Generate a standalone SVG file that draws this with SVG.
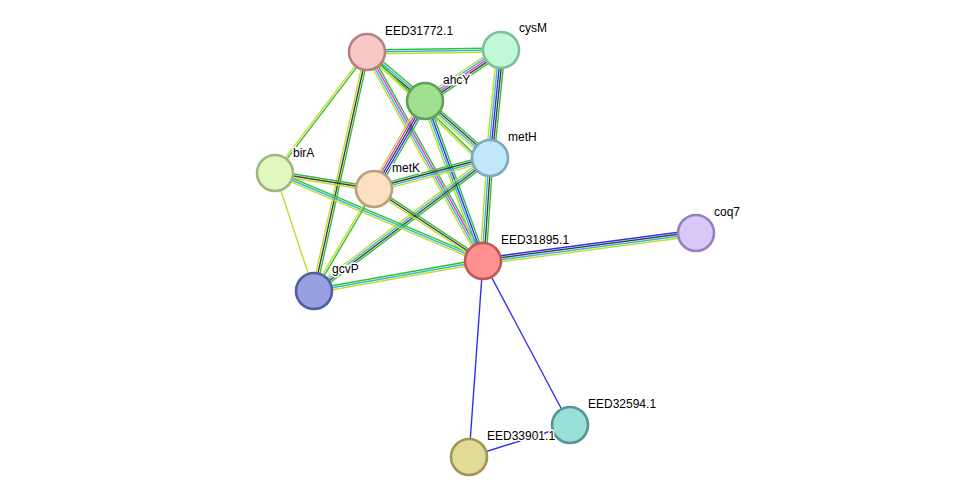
<svg xmlns="http://www.w3.org/2000/svg" width="975" height="502" viewBox="0 0 975 502">
<style>
line{stroke-width:1.4;fill:none}
.g{stroke:#33c033}.c{stroke:#33b8d8}.y{stroke:#c4dc30}.k{stroke:#404040}.b{stroke:#3030f0}.m{stroke:#e030e0}
.n circle{stroke-width:2.6}
text{font-family:"Liberation Sans",Arial,sans-serif;font-size:12px;fill:#000;stroke:#fff;stroke-width:3;paint-order:stroke;stroke-linejoin:round}
</style>
<rect width="975" height="502" fill="#fff"/>
<g id="edges">
<g transform="translate(367,52) rotate(-0.855)"><line class="g" x1="0" y1="-2" x2="134" y2="-2"/><line class="c" x1="0" y1="0" x2="134" y2="0"/><line class="y" x1="0" y1="2" x2="134" y2="2"/></g>
<g transform="translate(367,52) rotate(40.2)"><line class="g" x1="0" y1="-3" x2="76" y2="-3"/><line class="c" x1="0" y1="-1" x2="76" y2="-1"/><line class="k" x1="0" y1="1" x2="76" y2="1"/><line class="y" x1="0" y1="3" x2="76" y2="3"/></g>
<g transform="translate(367,52) rotate(60.97)"><line class="g" x1="0" y1="-3" x2="239" y2="-3"/><line class="m" x1="0" y1="-1" x2="239" y2="-1"/><line class="c" x1="0" y1="1" x2="239" y2="1"/><line class="y" x1="0" y1="3" x2="239" y2="3"/></g>
<g transform="translate(367,52) rotate(44)"><line class="g" x1="0" y1="-1" x2="160" y2="-1"/><line class="y" x1="0" y1="1" x2="160" y2="1"/></g>
<g transform="translate(367,52) rotate(127.25)"><line class="g" x1="0" y1="-1" x2="152" y2="-1"/><line class="y" x1="0" y1="1" x2="152" y2="1"/></g>
<g transform="translate(367,52) rotate(102.5)"><line class="g" x1="0" y1="-2" x2="245" y2="-2"/><line class="k" x1="0" y1="0" x2="245" y2="0"/><line class="y" x1="0" y1="2" x2="245" y2="2"/></g>
<g transform="translate(501,50) rotate(146.1)"><line class="g" x1="0" y1="-4" x2="91.5" y2="-4"/><line class="k" x1="0" y1="-2" x2="91.5" y2="-2"/><line class="m" x1="0" y1="0" x2="91.5" y2="0"/><line class="c" x1="0" y1="2" x2="91.5" y2="2"/><line class="y" x1="0" y1="4" x2="91.5" y2="4"/></g>
<g transform="translate(501,50) rotate(95.8)"><line class="g" x1="0" y1="-4" x2="108.6" y2="-4"/><line class="k" x1="0" y1="-2" x2="108.6" y2="-2"/><line class="b" x1="0" y1="0" x2="108.6" y2="0"/><line class="c" x1="0" y1="2" x2="108.6" y2="2"/><line class="y" x1="0" y1="4" x2="108.6" y2="4"/></g>
<g transform="translate(425,101) rotate(41.25)"><line class="g" x1="0" y1="-3" x2="86.5" y2="-3"/><line class="k" x1="0" y1="-1" x2="86.5" y2="-1"/><line class="c" x1="0" y1="1" x2="86.5" y2="1"/><line class="y" x1="0" y1="3" x2="86.5" y2="3"/></g>
<g transform="translate(425,101) rotate(70.08)"><line class="g" x1="0" y1="-3" x2="170" y2="-3"/><line class="b" x1="0" y1="-1" x2="170" y2="-1"/><line class="c" x1="0" y1="1" x2="170" y2="1"/><line class="y" x1="0" y1="3" x2="170" y2="3"/></g>
<g transform="translate(425,101) rotate(120.09)"><line class="g" x1="0" y1="-4" x2="101.7" y2="-4"/><line class="b" x1="0" y1="-2" x2="101.7" y2="-2"/><line class="k" x1="0" y1="0" x2="101.7" y2="0"/><line class="m" x1="0" y1="2" x2="101.7" y2="2"/><line class="y" x1="0" y1="4" x2="101.7" y2="4"/></g>
<g transform="translate(490,158) rotate(165.04)"><line class="y" x1="0" y1="-3" x2="120" y2="-3"/><line class="c" x1="0" y1="-1" x2="120" y2="-1"/><line class="k" x1="0" y1="1" x2="120" y2="1"/><line class="g" x1="0" y1="3" x2="120" y2="3"/></g>
<g transform="translate(490,158) rotate(142.92)"><line class="g" x1="0" y1="-3" x2="220.6" y2="-3"/><line class="k" x1="0" y1="-1" x2="220.6" y2="-1"/><line class="c" x1="0" y1="1" x2="220.6" y2="1"/><line class="y" x1="0" y1="3" x2="220.6" y2="3"/></g>
<g transform="translate(490,158) rotate(93.89)"><line class="g" x1="0" y1="-3" x2="103.2" y2="-3"/><line class="k" x1="0" y1="-1" x2="103.2" y2="-1"/><line class="c" x1="0" y1="1" x2="103.2" y2="1"/><line class="y" x1="0" y1="3" x2="103.2" y2="3"/></g>
<g transform="translate(275,173) rotate(9.18)"><line class="g" x1="0" y1="-2" x2="100.3" y2="-2"/><line class="k" x1="0" y1="0" x2="100.3" y2="0"/><line class="y" x1="0" y1="2" x2="100.3" y2="2"/></g>
<g transform="translate(275,173) rotate(22.93)"><line class="g" x1="0" y1="-2" x2="225.8" y2="-2"/><line class="c" x1="0" y1="0" x2="225.8" y2="0"/><line class="y" x1="0" y1="2" x2="225.8" y2="2"/></g>
<g transform="translate(275,173) rotate(71.71)"><line class="y" x1="0" y1="0" x2="124.3" y2="0"/></g>
<g transform="translate(374,189) rotate(33.45)"><line class="g" x1="0" y1="-2" x2="130.6" y2="-2"/><line class="k" x1="0" y1="0" x2="130.6" y2="0"/><line class="y" x1="0" y1="2" x2="130.6" y2="2"/></g>
<g transform="translate(374,189) rotate(120.47)"><line class="g" x1="0" y1="-1" x2="118.3" y2="-1"/><line class="y" x1="0" y1="1" x2="118.3" y2="1"/></g>
<g transform="translate(314,291) rotate(-10.07)"><line class="g" x1="0" y1="-2" x2="171.6" y2="-2"/><line class="c" x1="0" y1="0" x2="171.6" y2="0"/><line class="y" x1="0" y1="2" x2="171.6" y2="2"/></g>
<g transform="translate(483,261) rotate(-7.49)"><line class="b" x1="0" y1="-3" x2="214.8" y2="-3"/><line class="k" x1="0" y1="-1" x2="214.8" y2="-1"/><line class="c" x1="0" y1="1" x2="214.8" y2="1"/><line class="y" x1="0" y1="3" x2="214.8" y2="3"/></g>
<line class="b" x1="483" y1="261" x2="570" y2="425"/>
<line class="b" x1="483" y1="261" x2="469" y2="457"/>
<line class="b" x1="570" y1="425" x2="469" y2="457"/>
</g>
<g id="EED31772.1" class="n"><circle cx="367" cy="52" r="18" fill="#f8c8c8" stroke="#b88080"/><text x="385" y="35">EED31772.1</text></g>
<g id="cysM" class="n"><circle cx="501" cy="50" r="18" fill="#c0f8d8" stroke="#80c098"/><text x="519" y="32">cysM</text></g>
<g id="ahcY" class="n"><circle cx="425" cy="101" r="18" fill="#a0e090" stroke="#60a058"/><text x="443" y="84">ahcY</text></g>
<g id="metH" class="n"><circle cx="490" cy="158" r="18" fill="#c0e8f8" stroke="#80a8c0"/><text x="508" y="141">metH</text></g>
<g id="birA" class="n"><circle cx="275" cy="173" r="18" fill="#e0f8c0" stroke="#a0b880"/><text x="293" y="157">birA</text></g>
<g id="metK" class="n"><circle cx="374" cy="189" r="18" fill="#fde0c0" stroke="#b8a080"/><text x="392" y="172">metK</text></g>
<g id="EED31895.1" class="n"><circle cx="483" cy="261" r="18" fill="#ff9090" stroke="#c05858"/><text x="501" y="244">EED31895.1</text></g>
<g id="coq7" class="n"><circle cx="696" cy="233" r="18" fill="#d8c8f8" stroke="#9880c0"/><text x="714" y="216">coq7</text></g>
<g id="gcvP" class="n"><circle cx="314" cy="291" r="18" fill="#98a0e0" stroke="#5060a0"/><text x="332" y="273">gcvP</text></g>
<g id="EED32594.1" class="n"><circle cx="570" cy="425" r="18" fill="#98e0d8" stroke="#509890"/><text x="588" y="408">EED32594.1</text></g>
<g id="EED33901.1" class="n"><circle cx="469" cy="457" r="18" fill="#e0dc98" stroke="#a09850"/><text x="487" y="440">EED33901.1</text></g>
</svg>
